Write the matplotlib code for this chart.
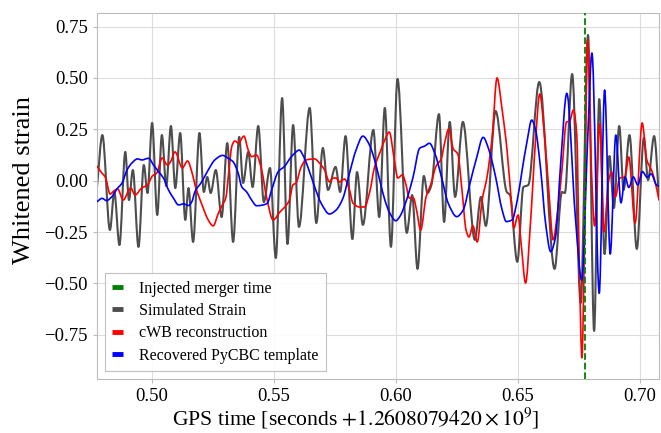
import matplotlib
matplotlib.use("Agg")
import matplotlib.pyplot as plt
from matplotlib.lines import Line2D
from matplotlib.path import Path
from matplotlib.patches import PathPatch

# ---------------- data ----------------
strain_t = [0.4775, 0.4797, 0.4828, 0.4846, 0.4867, 0.4891, 0.4906, 0.4922, 0.4945, 0.4967,
            0.4982, 0.5001, 0.5022, 0.5041, 0.5059, 0.5078, 0.5096, 0.5116, 0.5137, 0.5150,
            0.5169, 0.5195, 0.5213, 0.5227, 0.5241, 0.5262, 0.5286, 0.5309, 0.5333, 0.5358,
            0.5374, 0.5395, 0.5413, 0.5436, 0.5459, 0.5484, 0.5508, 0.5534, 0.5556, 0.5579,
            0.5603, 0.5647, 0.5674, 0.5701, 0.5722, 0.5753, 0.5772, 0.5794, 0.5822, 0.5841,
            0.5865, 0.5908, 0.5932, 0.5955, 0.5980, 0.6007, 0.6045, 0.6067, 0.6089, 0.6115,
            0.6130, 0.6146, 0.6177, 0.6198, 0.6221, 0.6243, 0.6275, 0.6324, 0.6349, 0.6369,
            0.6409, 0.6455, 0.6468, 0.6498, 0.6523, 0.6543, 0.6588, 0.6651, 0.6681, 0.6693,
            0.6723, 0.6758, 0.6788, 0.6813, 0.6834, 0.6856, 0.6876, 0.6894, 0.6916, 0.6934,
            0.6958, 0.6988, 0.7017, 0.7034, 0.7059, 0.7079]
strain_h = [-0.031, 0.222, -0.240, -0.055, -0.313, 0.140, -0.094, 0.052, -0.322, 0.076,
            -0.060, 0.281, -0.167, 0.222, -0.026, 0.266, -0.036, 0.232, -0.191, -0.036,
            -0.298, 0.232, -0.055, 0.018, -0.060, 0.052, -0.177, 0.183, -0.298, 0.213,
            -0.011, 0.140, -0.031, 0.266, -0.104, 0.062, -0.376, 0.402, -0.308, 0.271,
            -0.225, 0.354, -0.206, 0.159, -0.045, 0.067, -0.055, 0.217, -0.284, 0.042,
            -0.215, 0.247, -0.177, 0.354, -0.322, 0.495, -0.254, -0.070, -0.429, 0.023,
            -0.060, -0.021, 0.324, -0.201, 0.286, -0.079, 0.286, -0.288, -0.079, -0.220,
            0.339, -0.055, -0.070, -0.395, -0.031, -0.021, 0.480, -0.429, -0.055, -0.060,
            0.519, -0.595, 0.709, -0.731, 0.397, -0.357, 0.120, -0.133, 0.266, -0.045,
            0.222, -0.332, 0.208, 0.003, 0.217, -0.079]

cwb_t = [0.4775, 0.4795, 0.4809, 0.4829, 0.4844, 0.4859, 0.4883, 0.4904, 0.4914, 0.4931,
         0.4958, 0.4982, 0.5002, 0.5020, 0.5042, 0.5064, 0.5076, 0.5095, 0.5125, 0.5146,
         0.5166, 0.5178, 0.5204, 0.5231, 0.5251, 0.5273, 0.5289, 0.5303, 0.5316, 0.5328,
         0.5340, 0.5355, 0.5377, 0.5395, 0.5409, 0.5429, 0.5450, 0.5470, 0.5497, 0.5525,
         0.5545, 0.5564, 0.5578, 0.5591, 0.5612, 0.5632, 0.5667, 0.5687, 0.5708, 0.5728,
         0.5742, 0.5755, 0.5769, 0.5790, 0.5810, 0.5824, 0.5851, 0.5872, 0.5892, 0.5913,
         0.5926, 0.5939, 0.5960, 0.5973, 0.5994, 0.6008, 0.6027, 0.6042, 0.6055, 0.6072,
         0.6085, 0.6102, 0.6124, 0.6144, 0.6165, 0.6186, 0.6200, 0.6217, 0.6236, 0.6254,
         0.6272, 0.6288, 0.6300, 0.6316, 0.6334, 0.6354, 0.6374, 0.6395, 0.6415, 0.6436,
         0.6456, 0.6474, 0.6484, 0.6501, 0.6515, 0.6532, 0.6552, 0.6573, 0.6590, 0.6611,
         0.6627, 0.6645, 0.6664, 0.6681, 0.6700, 0.6713, 0.6728, 0.6742, 0.6752, 0.6763,
         0.6773, 0.6786, 0.6802, 0.6815, 0.6836, 0.6853, 0.6873, 0.6885, 0.6900, 0.6918,
         0.6939, 0.6955, 0.6981, 0.7010, 0.7029, 0.7050, 0.7066, 0.7079]
cwb_h = [0.071, 0.037, 0.018, -0.065, -0.050, -0.040, -0.094, -0.050, -0.036, -0.070,
         -0.036, -0.021, 0.023, 0.037, 0.110, 0.076, 0.091, 0.140, 0.062, 0.096,
         0.033, -0.026, -0.113, -0.191, -0.220, -0.157, -0.118, -0.084, 0.052, 0.169,
         0.193, 0.183, 0.217, 0.149, 0.117, 0.125, 0.052, -0.079, -0.191, -0.152,
         -0.128, -0.094, -0.021, -0.011, 0.067, 0.101, 0.106, 0.086, 0.052, -0.006,
         0.013, 0.013, -0.006, 0.008, -0.045, -0.108, -0.128, -0.128, -0.060, 0.067,
         0.110, 0.149, 0.213, 0.237, 0.101, 0.013, 0.028, -0.021, -0.084, -0.084,
         -0.143, -0.240, -0.079, -0.016, 0.071, 0.106, 0.183, 0.251, 0.154, 0.130,
         -0.055, -0.240, -0.274, -0.220, -0.298, -0.094, 0.018, 0.213, 0.500, 0.344,
         0.149, -0.108, -0.230, -0.167, -0.322, -0.498, -0.206, 0.198, 0.422, 0.198,
         -0.045, -0.288, -0.143, 0.052, 0.286, 0.290, 0.344, 0.222, -0.386, -0.862,
         -0.337, 0.684, 0.052, -0.220, 0.276, -0.250, 0.003, 0.042, -0.079, 0.013,
         0.018, 0.115, -0.206, 0.281, 0.101, 0.047, -0.021, -0.094]

pycbc_t = [0.4775, 0.4796, 0.4814, 0.4836, 0.4859, 0.4877, 0.4898, 0.4918, 0.4941, 0.4959,
           0.4986, 0.5007, 0.5027, 0.5048, 0.5068, 0.5089, 0.5109, 0.5130, 0.5150, 0.5164,
           0.5176, 0.5204, 0.5231, 0.5258, 0.5290, 0.5313, 0.5333, 0.5354, 0.5368, 0.5388,
           0.5409, 0.5429, 0.5456, 0.5473, 0.5491, 0.5518, 0.5545, 0.5557, 0.5578, 0.5605,
           0.5619, 0.5639, 0.5667, 0.5694, 0.5728, 0.5755, 0.5783, 0.5810, 0.5837, 0.5865,
           0.5892, 0.5913, 0.5934, 0.5955, 0.5976, 0.6000, 0.6016, 0.6044, 0.6071, 0.6098,
           0.6119, 0.6138, 0.6160, 0.6187, 0.6215, 0.6250, 0.6276, 0.6304, 0.6331, 0.6358,
           0.6382, 0.6409, 0.6436, 0.6453, 0.6477, 0.6498, 0.6518, 0.6539, 0.6557, 0.6573,
           0.6594, 0.6614, 0.6635, 0.6655, 0.6676, 0.6701, 0.6736, 0.6762, 0.6788, 0.6804,
           0.6834, 0.6856, 0.6879, 0.6902, 0.6923, 0.6940, 0.6955, 0.6974, 0.6992, 0.7011,
           0.7031, 0.7047, 0.7069, 0.7079]
pycbc_h = [-0.102, -0.086, -0.097, -0.078, -0.037, -0.013, 0.052, 0.086, 0.106, 0.101,
           0.109, 0.076, 0.044, 0.012, -0.045, -0.086, -0.118, -0.113, -0.121, -0.102,
           -0.055, -0.006, 0.052, 0.101, 0.123, 0.109, 0.092, 0.036, -0.029, -0.054,
           -0.094, -0.122, -0.118, -0.110, -0.045, 0.044, 0.071, 0.092, 0.125, 0.149,
           0.125, 0.068, -0.029, -0.110, -0.162, -0.143, -0.086, 0.036, 0.149, 0.217,
           0.174, 0.101, 0.003, -0.094, -0.159, -0.195, -0.175, -0.094, 0.019, 0.158,
           0.169, 0.182, 0.133, 0.019, -0.110, -0.175, -0.143, -0.013, 0.110, 0.211,
           0.149, 0.019, -0.143, -0.199, -0.191, -0.094, 0.052, 0.198, 0.295, 0.247,
           0.052, -0.207, -0.345, -0.272, 0.085, 0.425, -0.175, -0.483, 0.247, 0.621,
           -0.548, 0.441, -0.357, 0.222, -0.108, 0.018, -0.033, 0.018, -0.021, 0.044,
           0.016, 0.033, -0.021, -0.026]

merger_time = 0.6777

labels = ["Injected merger time", "Simulated Strain", "cWB reconstruction",
          "Recovered PyCBC template"]
colors = ["green", "#4d4d4d", "red", "blue"]

yticks = [-0.75, -0.50, -0.25, 0.00, 0.25, 0.50, 0.75]
xticks = [0.50, 0.55, 0.60, 0.65, 0.70]


def smooth_path(xs, ys):
    """Smooth (monotone cubic Bezier) rendering through the read points."""
    n = len(xs)
    d = [(ys[i + 1] - ys[i]) / (xs[i + 1] - xs[i]) for i in range(n - 1)]
    m = [0.0] * n
    m[0], m[-1] = d[0], d[-1]
    for i in range(1, n - 1):
        if d[i - 1] * d[i] <= 0:
            m[i] = 0.0
        else:
            h0 = xs[i] - xs[i - 1]
            h1 = xs[i + 1] - xs[i]
            w1, w2 = 2 * h1 + h0, h1 + 2 * h0
            m[i] = (w1 + w2) / (w1 / d[i - 1] + w2 / d[i])
    verts = [(xs[0], ys[0])]
    codes = [Path.MOVETO]
    for i in range(n - 1):
        h = xs[i + 1] - xs[i]
        verts += [(xs[i] + h / 3, ys[i] + m[i] * h / 3),
                  (xs[i + 1] - h / 3, ys[i + 1] - m[i + 1] * h / 3),
                  (xs[i + 1], ys[i + 1])]
        codes += [Path.CURVE4] * 3
    return Path(verts, codes)


# ---------------- figure ----------------
plt.rcParams["font.family"] = ["Liberation Serif", "DejaVu Serif"]
plt.rcParams["mathtext.fontset"] = "stix"

fig = plt.figure(figsize=(6.61, 4.33), dpi=100)
ax = fig.add_axes([97 / 661, 1 - 379 / 433, 562 / 661, 366 / 433])

ax.axvline(merger_time, color=colors[0], ls="--", lw=1.3, zorder=4)
for xs, ys, c, lw, z in [(strain_t, strain_h, colors[1], 1.5, 2),
                         (cwb_t, cwb_h, colors[2], 1.2, 3),
                         (pycbc_t, pycbc_h, colors[3], 1.2, 3)]:
    ax.add_patch(PathPatch(smooth_path(xs, ys), fill=False, edgecolor=c, lw=lw,
                           zorder=z, capstyle="round", joinstyle="round"))

ax.set_xlim(0.4775, 0.7079)
ax.set_ylim(-0.965, 0.816)
ax.set_xticks(xticks)
ax.set_yticks(yticks)
ax.set_xticklabels([f"{v:.2f}" for v in xticks])
ax.set_yticklabels([f"{v:.2f}".replace("-", "\u2212") for v in yticks])
ax.tick_params(labelsize=13.5, length=3, color="#bbbbbb")
ax.grid(True, color="#dddddd", lw=0.8)
ax.set_axisbelow(True)
for s in ax.spines.values():
    s.set_color("#bbbbbb")

ax.set_xlabel(r"GPS time [seconds $+1.2608079420\times10^{9}$]", fontsize=15.6)
ax.xaxis.set_label_coords(0.461, -0.074)
ax.set_ylabel("Whitened strain", fontsize=19)
ax.yaxis.set_label_coords(-0.111, 0.544)

handles = [Line2D([], [], color=c, lw=3.5, solid_capstyle="butt") for c in colors]
leg = ax.legend(handles, labels, loc="lower left", fontsize=11.5, handlelength=0.7,
                handletextpad=1.0, borderpad=0.45, labelspacing=0.4, fancybox=False,
                framealpha=0.9, edgecolor="#bbbbbb")
leg.get_frame().set_linewidth(0.8)

fig.savefig("out.png", dpi=100)
